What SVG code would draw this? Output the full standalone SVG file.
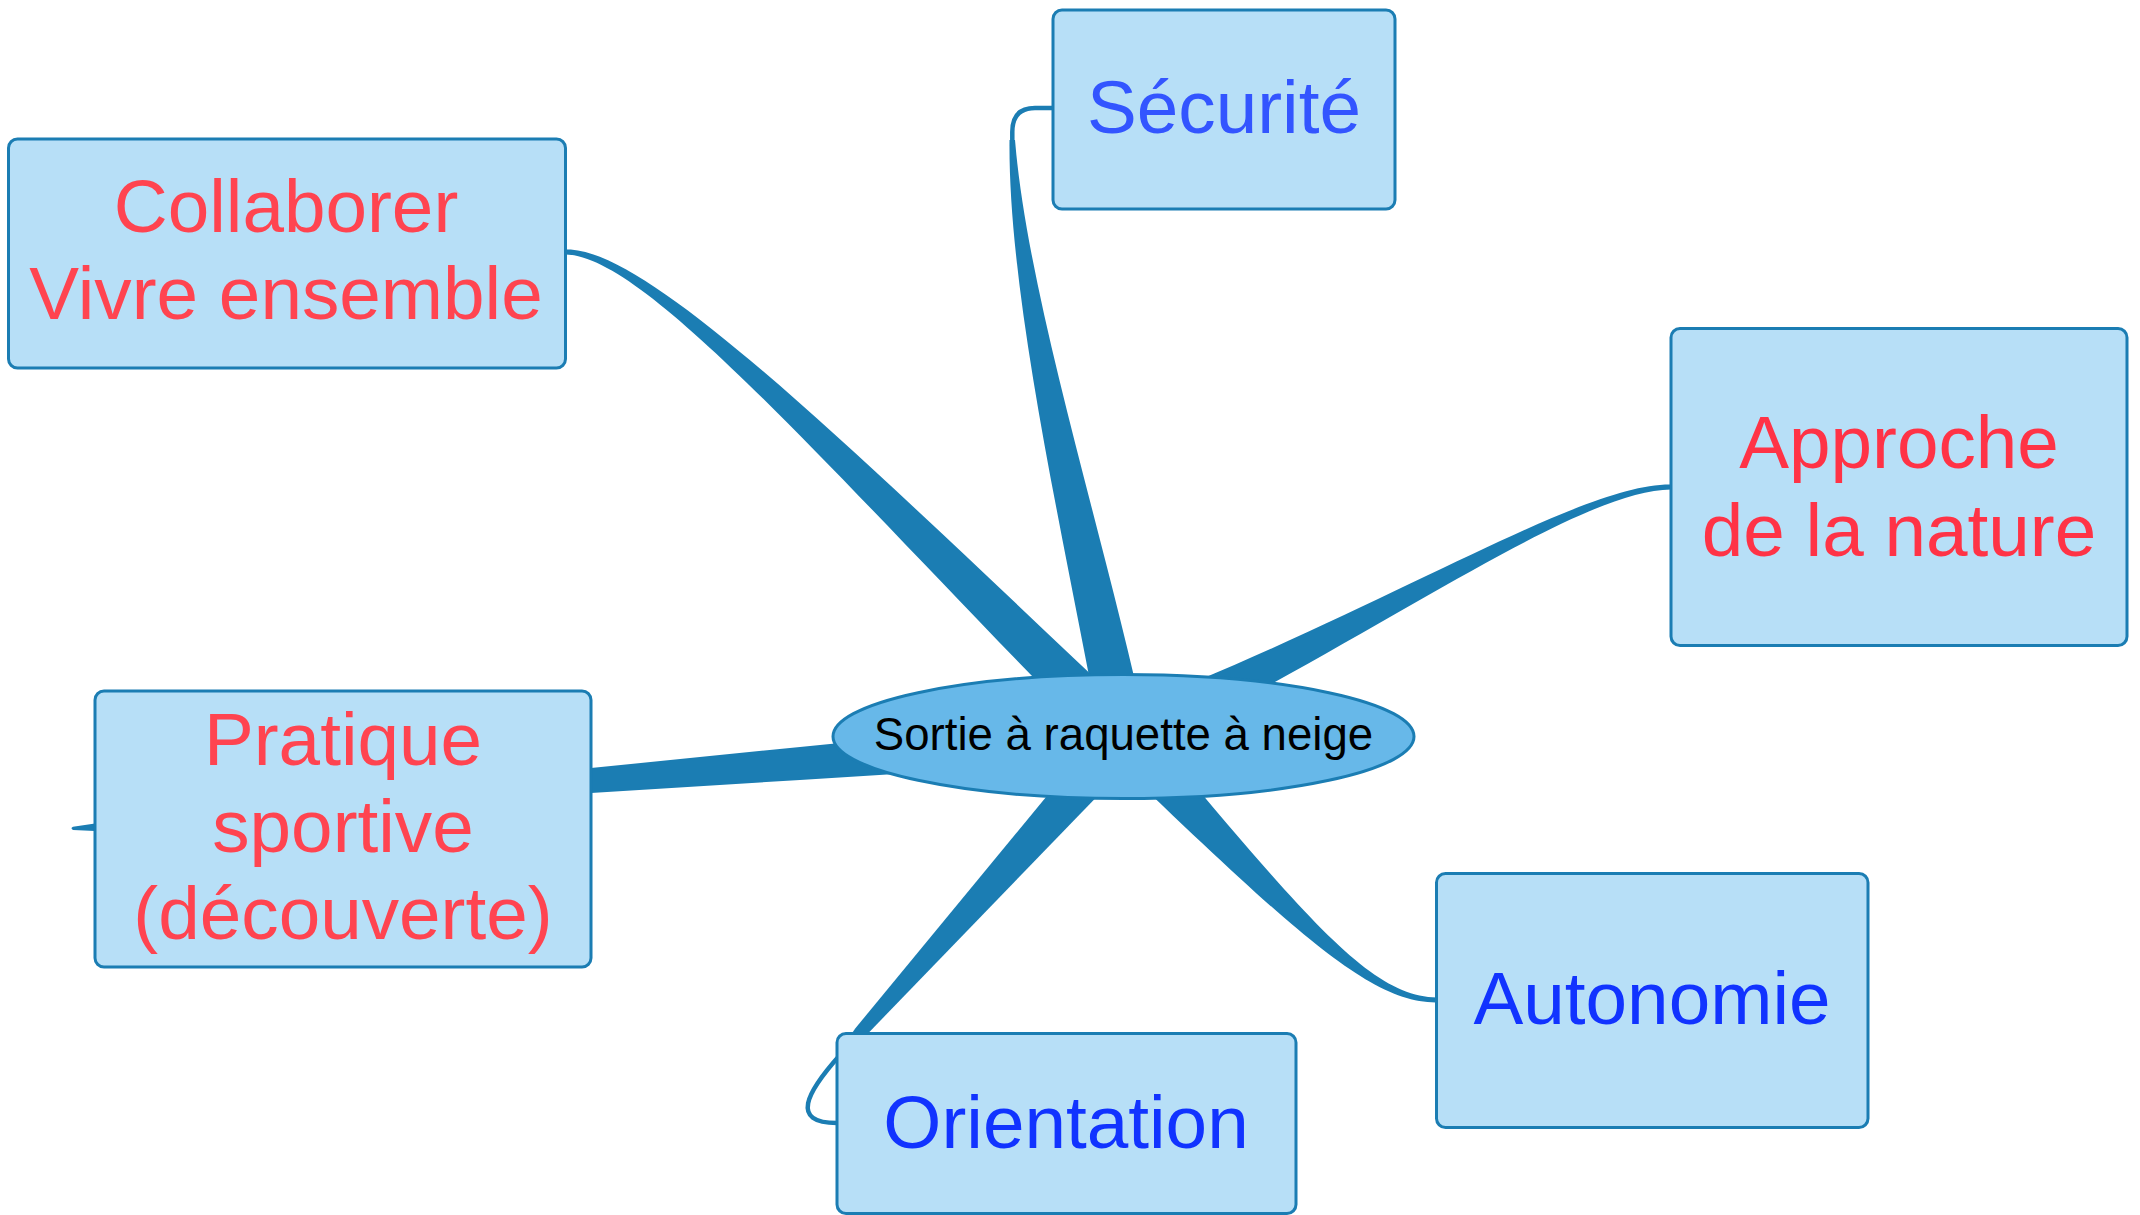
<svg xmlns="http://www.w3.org/2000/svg" width="2140" height="1215" viewBox="0 0 2140 1215">
<defs>
<style>
.bg{fill:#ffffff}
.spoke{fill:#1b7db3;stroke:none}
.thin{fill:none;stroke:#1b7db3;stroke-width:4.5;stroke-linecap:round;stroke-linejoin:round}
.box{fill:#b7dff7;stroke:#1b7db3;stroke-width:3}
.center{fill:#67b8e9;stroke:#1b7db3;stroke-width:3}
.lbl{font-family:"Liberation Sans",Arial,sans-serif;font-size:74.7px;text-anchor:middle}
.red{fill:#ff4450}
.red2{fill:#ff3346}
.blue{fill:#1133ff}
.blue2{fill:#3355ff}
.ctext{font-family:"Liberation Sans",Arial,sans-serif;font-size:45.6px;text-anchor:middle;fill:#000000}
</style>
</defs>
<rect class="bg" x="0" y="0" width="2140" height="1215"/>
<g id="connectors">
  <!-- Sécurité -->
  <path class="spoke" d="M1146.6,732.5 C1104.7,536.5 1028,299.7 1015,139.9 L1009.5,140.1 C1008,300.3 1065.3,543.5 1101.4,741.5 Z"/>
  <path class="thin" d="M1012.3,150 L1012.3,132 Q1012.3,108 1035,108 L1054,108"/>
  <!-- Collaborer -->
  <path class="spoke" d="M1140.1,720.5 C861.2,458.5 650,247 566,249.5 L566,254.5 C650,257 838.8,481.5 1107.9,753.5 Z"/>
  <!-- Approche -->
  <path class="spoke" d="M1112,715.5 C1396.4,604.8 1580,483.5 1671,484.5 L1671,489.5 C1580,490.5 1403.6,619.2 1134.2,757.6 Z"/>
  <!-- Autonomie -->
  <path class="spoke" d="M1107.2,752.7 C1293.4,931.1 1370,1003.5 1437,1002.5 L1437,997.5 C1370,996.5 1306.6,918.9 1140.8,721.3 Z"/>
  <!-- Orientation -->
  <path class="spoke" d="M1107.6,722.3 L855.2,1028.5 L838.1,1053.3 L841.9,1056.7 L864.6,1036.9 L1140.4,751.7 Z"/>
  <path class="thin" d="M840,1055 C806,1093 790,1123 837,1123"/>
  <!-- Pratique -->
  <path class="spoke" d="M1124,714.5 L800,747 L591,768 L95,823.5 L73,826.7 Q70,828.3 73,830 L95,831 L591,793 L800,780 L1124,759.5 Z"/>
</g>
<g id="node-securite">
  <rect class="box" x="1053" y="10" width="342" height="199" rx="9"/>
  <text class="lbl blue2" x="1224" y="133">Sécurité</text>
</g>
<g id="node-collaborer">
  <rect class="box" x="8.5" y="139" width="557" height="229" rx="9"/>
  <text class="lbl red" x="286" y="231.7">Collaborer</text>
  <text class="lbl red" x="286" y="319.3">Vivre ensemble</text>
</g>
<g id="node-approche">
  <rect class="box" x="1671" y="328.5" width="456" height="317" rx="9"/>
  <text class="lbl red2" x="1899" y="468.3">Approche</text>
  <text class="lbl red2" x="1899" y="555.7">de la nature</text>
</g>
<g id="node-pratique">
  <rect class="box" x="95" y="691" width="496" height="276" rx="9"/>
  <text class="lbl red" x="343" y="765">Pratique</text>
  <text class="lbl red" x="343" y="851.7">sportive</text>
  <text class="lbl red" x="343" y="939.3">(découverte)</text>
</g>
<g id="node-autonomie">
  <rect class="box" x="1436.5" y="873.5" width="431.5" height="254" rx="9"/>
  <text class="lbl blue" x="1652" y="1024.3">Autonomie</text>
</g>
<g id="node-orientation">
  <rect class="box" x="837" y="1033.5" width="459" height="180" rx="9"/>
  <text class="lbl blue" x="1066" y="1148.3">Orientation</text>
</g>
<g id="node-center">
  <ellipse class="center" cx="1123.5" cy="736.5" rx="290.5" ry="62"/>
  <text class="ctext" x="1123.5" y="750">Sortie à raquette à neige</text>
</g>
</svg>
